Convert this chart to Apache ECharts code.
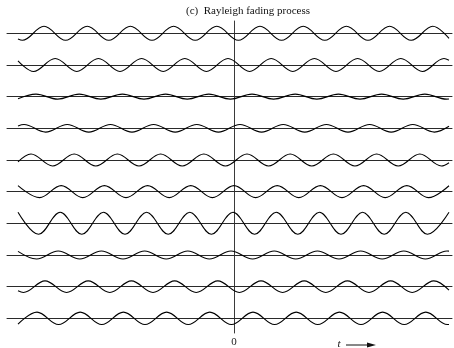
<!DOCTYPE html>
<html>
<head>
<meta charset="utf-8">
<script src="https://cdn.jsdelivr.net/npm/echarts@6/dist/echarts.min.js"></script>
<style>html,body{margin:0;padding:0;background:#fff}#c{width:454px;height:348px}</style>
</head>
<body>
<div id="c"></div>
<script>
// Sample functions of the process: [t, value] read at start, extrema, end of each trace
const wave1 = [[-216,-5.6],[-211.6,-7],[-190,7],[-168.4,-7],[-146.8,7],[-125.2,-7],[-103.6,7],[-82,-7],[-60.4,7],[-38.8,-7],[-17.2,7],[4.4,-7],[26,7],[47.6,-7],[69.2,7],[90.8,-7],[112.4,7],[134,-7],[155.6,7],[177.2,-7],[198.8,7],[215,-5]];
const wave2 = [[-216,4.2],[-200.4,-6.5],[-178.8,6.5],[-157.2,-6.5],[-135.6,6.5],[-114,-6.5],[-92.4,6.5],[-70.8,-6.5],[-49.2,6.5],[-27.6,-6.5],[-6,6.5],[15.6,-6.5],[37.2,6.5],[58.8,-6.5],[80.4,6.5],[102,-6.5],[123.6,6.5],[145.2,-6.5],[166.8,6.5],[188.4,-6.5],[210,6.5],[215,4.8]];
const wave3 = [[-216,-2.2],[-198,2.5],[-176.4,-2.5],[-154.8,2.5],[-133.2,-2.5],[-111.6,2.5],[-90,-2.5],[-68.4,2.5],[-46.8,-2.5],[-25.2,2.5],[-3.6,-2.5],[18,2.5],[39.6,-2.5],[61.2,2.5],[82.8,-2.5],[104.4,2.5],[126,-2.5],[147.6,2.5],[169.2,-2.5],[190.8,2.5],[212.4,-2.5],[215,-2.4]];
const wave4 = [[-216,2.4],[-210,3.8],[-188.4,-3.8],[-166.8,3.8],[-145.2,-3.8],[-123.6,3.8],[-102,-3.8],[-80.4,3.8],[-58.8,-3.8],[-37.2,3.8],[-15.6,-3.8],[6,3.8],[27.6,-3.8],[49.2,3.8],[70.8,-3.8],[92.4,3.8],[114,-3.8],[135.6,3.8],[157.2,-3.8],[178.8,3.8],[200.4,-3.8],[215,2.0]];
const wave5 = [[-216,-1.9],[-203,6],[-181.4,-6],[-159.8,6],[-138.2,-6],[-116.6,6],[-95,-6],[-73.4,6],[-51.8,-6],[-30.2,6],[-8.6,-6],[13,6],[34.6,-6],[56.2,6],[77.8,-6],[99.4,6],[121,-6],[142.6,6],[164.2,-6],[185.8,6],[207.4,-6],[215,-2.7]];
const wave6 = [[-216,6],[-194.4,-6],[-172.8,6],[-151.2,-6],[-129.6,6],[-108,-6],[-86.4,6],[-64.8,-6],[-43.2,6],[-21.6,-6],[0,6],[21.6,-6],[43.2,6],[64.8,-6],[86.4,6],[108,-6],[129.6,6],[151.2,-6],[172.8,6],[194.4,-6],[215,5.9]];
const wave7 = [[-216,11],[-195.4,-11],[-173.8,11],[-152.2,-11],[-130.6,11],[-109,-11],[-87.4,11],[-65.8,-11],[-44.2,11],[-22.6,-11],[-1,11],[20.6,-11],[42.2,11],[63.8,-11],[85.4,11],[107,-11],[128.6,11],[150.2,-11],[171.8,11],[193.4,-11],[215,11]];
const wave8 = [[-216,3.6],[-197.4,-4],[-175.8,4],[-154.2,-4],[-132.6,4],[-111,-4],[-89.4,4],[-67.8,-4],[-46.2,4],[-24.6,-4],[-3,4],[18.6,-4],[40.2,4],[61.8,-4],[83.4,4],[105,-4],[126.6,4],[148.2,-4],[169.8,4],[191.4,-4],[213,4],[215,3.9]];
const wave9 = [[-216,-4.1],[-210.6,-5.8],[-189,5.8],[-167.4,-5.8],[-145.8,5.8],[-124.2,-5.8],[-102.6,5.8],[-81,-5.8],[-59.4,5.8],[-37.8,-5.8],[-16.2,5.8],[5.4,-5.8],[27,5.8],[48.6,-5.8],[70.2,5.8],[91.8,-5.8],[113.4,5.8],[135,-5.8],[156.6,5.8],[178.2,-5.8],[199.8,5.8],[215,-3.5]];
const wave10 = [[-216,-5.8],[-197,6.2],[-175.4,-6.2],[-153.8,6.2],[-132.2,-6.2],[-110.6,6.2],[-89,-6.2],[-67.4,6.2],[-45.8,-6.2],[-24.2,6.2],[-2.6,-6.2],[19,6.2],[40.6,-6.2],[62.2,6.2],[83.8,-6.2],[105.4,6.2],[127,-6.2],[148.6,6.2],[170.2,-6.2],[191.8,6.2],[213.4,-6.2],[215,-6.2]];
const waves = [wave1, wave2, wave3, wave4, wave5, wave6, wave7, wave8, wave9, wave10];
const timeTickLabels = [0];
const titleText = '(c)  Rayleigh fading process';

const serif = '"Liberation Serif", "DejaVu Serif", serif';
const T_MIN = -227, T_MAX = 218;
const grids = [], xAxes = [], yAxes = [], series = [];
waves.forEach((w, i) => {
  const base = 33.3 + 31.67 * i;
  grids.push({ left: 7, right: 2, top: base - 15, height: 30 });
  xAxes.push({
    type: 'value', gridIndex: i, min: T_MIN, max: T_MAX,
    axisLine: { show: true, onZero: true, lineStyle: { color: '#2a2a2a', width: 1 } },
    axisTick: { show: false }, axisLabel: { show: false }, splitLine: { show: false }
  });
  yAxes.push({ type: 'value', gridIndex: i, min: -15, max: 15, show: false, splitLine: { show: false } });
  series.push({
    type: 'line', xAxisIndex: i, yAxisIndex: i, data: w, smooth: 0.37,
    symbol: 'none', lineStyle: { color: '#000', width: 1.1 }, silent: true, z: 3
  });
});
// full-height grid carrying the vertical time-origin axis
grids.push({ left: 7, right: 2, top: 21, bottom: 15 });
xAxes.push({
  type: 'value', gridIndex: 10, min: T_MIN, max: T_MAX,
  axisLine: { show: false, onZero: false }, axisTick: { show: false }, splitLine: { show: false },
  axisLabel: { show: true, customValues: timeTickLabels, margin: 4, fontFamily: serif, fontSize: 11, color: '#222' }
});
yAxes.push({
  type: 'value', gridIndex: 10, min: 0, max: 1,
  axisLine: { show: true, onZero: true, lineStyle: { color: '#3a3a3a', width: 1 } },
  axisTick: { show: false }, axisLabel: { show: false }, splitLine: { show: false }
});

const chart = echarts.init(document.getElementById('c'), null, { renderer: 'canvas' });
chart.setOption({
  animation: false,
  backgroundColor: '#fff',
  title: {
    text: titleText, left: 248, top: 6, textAlign: 'center', padding: 0,
    textStyle: { fontFamily: serif, fontSize: 11, fontWeight: 'normal', color: '#111' }
  },
  grid: grids, xAxis: xAxes, yAxis: yAxes, series: series,
  graphic: [
    { type: 'text', x: 339, y: 344, style: { text: 't', font: 'italic 11px ' + serif, fill: '#111', align: 'center', verticalAlign: 'middle' } },
    { type: 'line', shape: { x1: 346, y1: 345, x2: 370, y2: 345 }, style: { stroke: '#111', lineWidth: 1 } },
    { type: 'polygon', shape: { points: [[367, 342.5], [376, 345], [367, 347.5]] }, style: { fill: '#111' } }
  ]
});
</script>
</body>
</html>
